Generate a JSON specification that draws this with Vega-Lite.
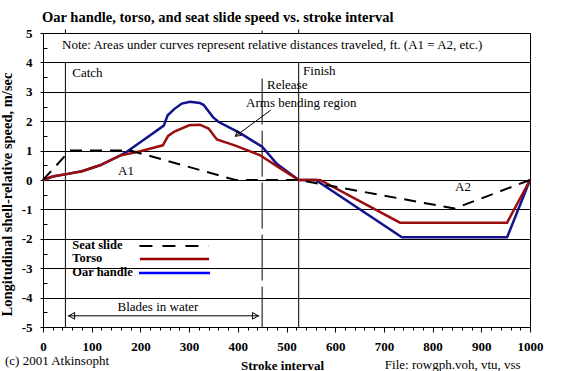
{
  "$schema": "https://vega.github.io/schema/vega-lite/v6.json",
  "width": 487,
  "height": 294,
  "autosize": {"type": "none"},
  "padding": {"left": 43, "top": 33, "right": 42, "bottom": 44},
  "background": "white",
  "config": {
    "view": {"stroke": "black", "strokeWidth": 1},
    "font": "'Liberation Serif', 'Times New Roman', serif",
    "text": {"font": "'Liberation Serif', 'Times New Roman', serif", "color": "black"}
  },
  "title": {
    "text": "Oar handle, torso, and seat slide speed vs. stroke interval",
    "anchor": "start",
    "frame": "group",
    "font": "'Liberation Serif', 'Times New Roman', serif",
    "fontSize": 14.5,
    "fontWeight": "bold",
    "color": "black",
    "offset": 2,
    "dx": -1
  },
  "datasets": {
    "seat": [
      {"x": 0, "y": 0}, {"x": 55, "y": 1.0}, {"x": 180, "y": 1.0}, {"x": 395, "y": 0},
      {"x": 525, "y": 0}, {"x": 845, "y": -0.97}, {"x": 1000, "y": 0}
    ],
    "torso": [
      {"x": 0, "y": 0}, {"x": 20, "y": 0.12}, {"x": 48, "y": 0.2}, {"x": 80, "y": 0.3},
      {"x": 117, "y": 0.5}, {"x": 158, "y": 0.83}, {"x": 200, "y": 0.98}, {"x": 246, "y": 1.18},
      {"x": 257, "y": 1.5}, {"x": 270, "y": 1.65}, {"x": 300, "y": 1.86}, {"x": 322, "y": 1.88},
      {"x": 340, "y": 1.75}, {"x": 357, "y": 1.38}, {"x": 395, "y": 1.17}, {"x": 445, "y": 0.85},
      {"x": 485, "y": 0.42}, {"x": 525, "y": 0}, {"x": 569, "y": 0}, {"x": 733, "y": -1.45},
      {"x": 953, "y": -1.45}, {"x": 1000, "y": 0}
    ],
    "oar": [
      {"x": 0, "y": 0}, {"x": 20, "y": 0.12}, {"x": 48, "y": 0.2}, {"x": 80, "y": 0.3},
      {"x": 117, "y": 0.5}, {"x": 158, "y": 0.83}, {"x": 172, "y": 0.96}, {"x": 210, "y": 1.4},
      {"x": 248, "y": 1.85}, {"x": 256, "y": 2.2}, {"x": 270, "y": 2.42}, {"x": 285, "y": 2.6},
      {"x": 302, "y": 2.66}, {"x": 322, "y": 2.62}, {"x": 330, "y": 2.55}, {"x": 349, "y": 2.14},
      {"x": 360, "y": 1.98}, {"x": 404, "y": 1.6}, {"x": 450, "y": 1.13}, {"x": 480, "y": 0.55},
      {"x": 525, "y": 0}, {"x": 560, "y": 0}, {"x": 737, "y": -1.95}, {"x": 953, "y": -1.95},
      {"x": 1000, "y": 0}
    ],
    "solidRefs": [
      {"x": 46, "y": 4, "y2": -5}, {"x": 525, "y": 4, "y2": -5},
      {"x": 46, "y": 5, "y2": 5.12}, {"x": 525, "y": 5, "y2": 5.12}, {"x": 450, "y": 5, "y2": 5.08}
    ],
    "dashedRefs": [{"x": 450, "y": 3.45, "y2": -5}],
    "legendSeat": [{"x": 198, "x2": 340, "y": -2.245}],
    "legendTorso": [{"x": 199, "x2": 341, "y": -2.69}],
    "legendOar": [{"x": 197, "x2": 343, "y": -3.16}],
    "legendText": [
      {"x": 60, "y": -2.21, "text": "Seat slide"},
      {"x": 60, "y": -2.67, "text": "Torso"},
      {"x": 60, "y": -3.14, "text": "Oar handle"}
    ],
    "notes": [
      {"x": 39, "y": 4.59, "text": "Note: Areas under curves represent relative distances traveled, ft. (A1 = A2, etc.)"},
      {"x": 60, "y": 3.64, "text": "Catch"},
      {"x": 534, "y": 3.7, "text": "Finish"},
      {"x": 460, "y": 3.23, "text": "Release"},
      {"x": 417, "y": 2.62, "text": "Arms bending region"},
      {"x": 154, "y": 0.31, "text": "A1"},
      {"x": 846, "y": -0.24, "text": "A2"},
      {"x": 153, "y": -4.31, "text": "Blades in water"},
      {"x": -78, "y": -6.16, "text": "(c) 2001 Atkinsopht"},
      {"x": 702, "y": -6.29, "text": "File: rowgph.voh, vtu, vss"}
    ],
    "armsArrow": [{"x": 468, "y": 2.38, "x2": 396, "y2": 1.5}],
    "armsHead": [{"x": 399, "y": 1.54}],
    "bladesLine": [{"x": 51, "x2": 444, "y": -4.62}],
    "bladesLeft": [{"x": 59, "y": -4.62}],
    "bladesRight": [{"x": 436, "y": -4.62}]
  },
  "encoding": {
    "x": {
      "field": "x",
      "type": "quantitative",
      "scale": {"domain": [0, 1000], "nice": false, "zero": false},
      "axis": {
        "values": [0,20,40,60,80,100,120,140,160,180,200,220,240,260,280,300,320,340,360,380,400,420,440,460,480,500,520,540,560,580,600,620,640,660,680,700,720,740,760,780,800,820,840,860,880,900,920,940,960,980,1000],
        "labelExpr": "datum.value % 100 === 0 ? '' + datum.value : ''",
        "labelOverlap": false,
        "labelFlush": false,
        "labelFont": "'Liberation Serif', 'Times New Roman', serif",
        "labelFontSize": 13,
        "labelFontWeight": "bold",
        "labelColor": "black",
        "labelPadding": 8,
        "tickSize": {"condition": {"test": "datum.value % 100 === 0", "value": 5}, "value": 3},
        "tickColor": "black",
        "domainColor": "black",
        "grid": false,
        "title": "Stroke interval",
        "titleFont": "'Liberation Serif', 'Times New Roman', serif",
        "titleFontSize": 13,
        "titleFontWeight": "bold",
        "titleColor": "black",
        "titleX": 239,
        "titleY": 38,
        "titleAlign": "center",
        "titleBaseline": "middle"
      }
    },
    "y": {
      "field": "y",
      "type": "quantitative",
      "scale": {"domain": [-5, 5], "nice": false, "zero": false},
      "axis": {
        "values": [-5,-4.5,-4,-3.5,-3,-2.5,-2,-1.5,-1,-0.5,0,0.5,1,1.5,2,2.5,3,3.5,4,4.5,5],
        "labelExpr": "datum.value % 1 === 0 ? '' + datum.value : ''",
        "labelOverlap": false,
        "labelFlush": false,
        "labelFont": "'Liberation Serif', 'Times New Roman', serif",
        "labelFontSize": 13,
        "labelFontWeight": "bold",
        "labelColor": "black",
        "labelPadding": 8,
        "tickSize": {"condition": {"test": "datum.value % 1 === 0", "value": 3}, "value": -4},
        "tickColor": "black",
        "domainColor": "black",
        "grid": true,
        "gridColor": "black",
        "gridWidth": 1,
        "gridOpacity": {"condition": {"test": "datum.value % 1 === 0", "value": 1}, "value": 0},
        "title": "Longitudinal shell-relative speed, m/sec",
        "titleFont": "'Liberation Serif', 'Times New Roman', serif",
        "titleFontSize": 14.5,
        "titleFontWeight": "bold",
        "titleColor": "black",
        "titleX": -36,
        "titleY": 161,
        "titleAngle": 270,
        "titleAlign": "center",
        "titleBaseline": "middle"
      }
    }
  },
  "layer": [
    {"data": {"name": "solidRefs"}, "mark": {"type": "rule", "color": "black", "strokeWidth": 1}, "encoding": {"y2": {"field": "y2"}}},
    {"data": {"name": "dashedRefs"}, "mark": {"type": "rule", "color": "black", "strokeWidth": 1, "strokeDash": [46, 6]}, "encoding": {"y2": {"field": "y2"}}},
    {"data": {"name": "oar"}, "mark": {"type": "line", "color": "#12128c", "strokeWidth": 2.5, "interpolate": "linear"}, "encoding": {"order": {"field": "x", "type": "quantitative"}}},
    {"data": {"name": "torso"}, "mark": {"type": "line", "color": "#9a0e0e", "strokeWidth": 2.5, "interpolate": "linear"}, "encoding": {"order": {"field": "x", "type": "quantitative"}}},
    {"data": {"name": "seat"}, "mark": {"type": "line", "color": "black", "strokeWidth": 2, "strokeDash": [12, 8]}, "encoding": {"order": {"field": "x", "type": "quantitative"}}},
    {"data": {"name": "legendSeat"}, "mark": {"type": "rule", "color": "black", "strokeWidth": 2, "strokeDash": [13, 10]}, "encoding": {"x2": {"field": "x2"}}},
    {"data": {"name": "legendTorso"}, "mark": {"type": "rule", "color": "#990000", "strokeWidth": 2.5}, "encoding": {"x2": {"field": "x2"}}},
    {"data": {"name": "legendOar"}, "mark": {"type": "rule", "color": "#0000ff", "strokeWidth": 2.5}, "encoding": {"x2": {"field": "x2"}}},
    {"data": {"name": "legendText"}, "mark": {"type": "text", "align": "left", "baseline": "middle", "fontSize": 12.5, "fontWeight": "bold", "font": "'Liberation Serif', 'Times New Roman', serif"}, "encoding": {"text": {"field": "text"}}},
    {"data": {"name": "notes"}, "mark": {"type": "text", "align": "left", "baseline": "middle", "fontSize": 13, "font": "'Liberation Serif', 'Times New Roman', serif"}, "encoding": {"text": {"field": "text"}}},
    {"data": {"name": "armsArrow"}, "mark": {"type": "rule", "color": "black", "strokeWidth": 1}, "encoding": {"x2": {"field": "x2"}, "y2": {"field": "y2"}}},
    {"data": {"name": "armsHead"}, "mark": {"type": "point", "shape": "triangle-up", "filled": false, "color": "black", "strokeWidth": 1, "size": 30, "angle": 233, "opacity": 1}},
    {"data": {"name": "bladesLine"}, "mark": {"type": "rule", "color": "black", "strokeWidth": 1}, "encoding": {"x2": {"field": "x2"}}},
    {"data": {"name": "bladesLeft"}, "mark": {"type": "point", "shape": "triangle-left", "filled": false, "color": "black", "strokeWidth": 1, "size": 45, "opacity": 1}},
    {"data": {"name": "bladesRight"}, "mark": {"type": "point", "shape": "triangle-right", "filled": false, "color": "black", "strokeWidth": 1, "size": 45, "opacity": 1}}
  ]
}
